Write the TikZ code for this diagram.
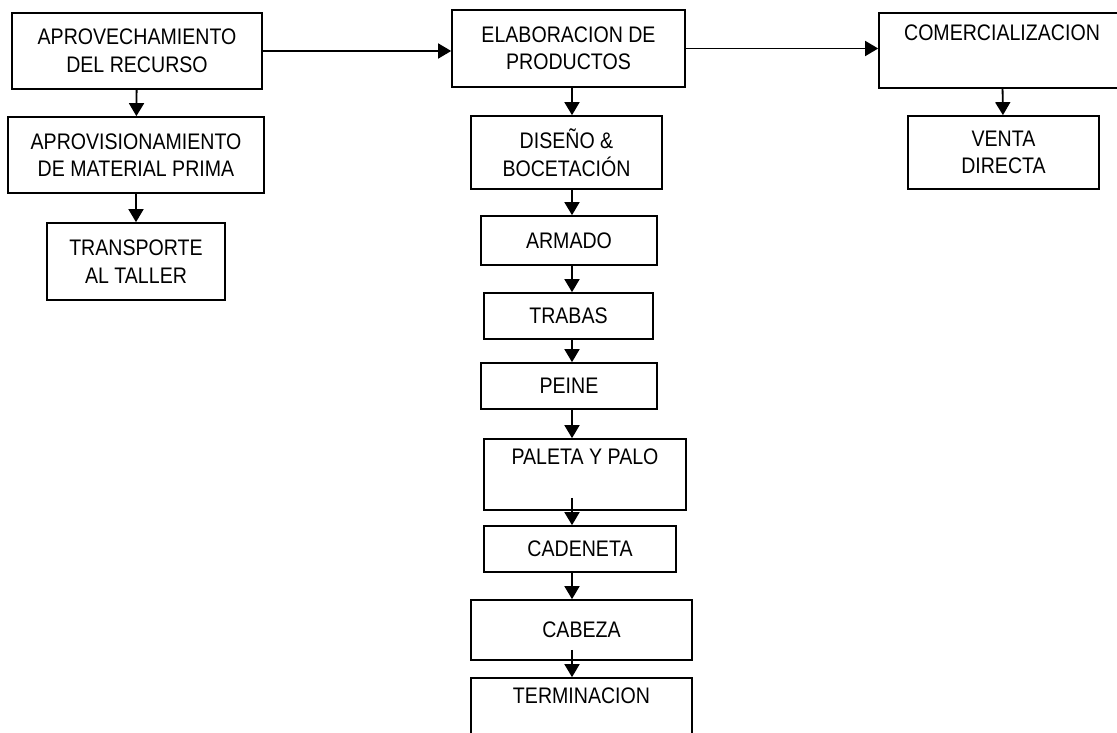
\documentclass[tikz,border=0pt]{standalone}
\usepackage{fontspec}
\setmainfont{Liberation Sans}[FakeStretch=0.87]
\usetikzlibrary{arrows.meta}

\tikzset{
  caja/.style={draw, line width=1.7pt, rectangle, inner sep=0pt, align=center,
    font=\fontsize{22.5}{27.5}\selectfont},
  flecha/.style={line width=1.8pt, -{Triangle[width=15pt, length=13pt]}}
}

\begin{document}
\begin{tikzpicture}[x=1pt, y=-1pt]
  \useasboundingbox (0,0) rectangle (1117,733);
  \clip (0,0) rectangle (1117,733);
  % columna izquierda
  \node[caja, minimum width=250, minimum height=76] (a1) at (137,51) {APROVECHAMIENTO\\DEL RECURSO};
  \node[caja, minimum width=256, minimum height=76] (a2) at (136,155) {APROVISIONAMIENTO\\DE MATERIAL PRIMA};
  \node[caja, minimum width=178, minimum height=77] (a3) at (136,261.5) {TRANSPORTE\\AL TALLER};
  % columna central
  \coordinate (col) at (572,0);
  \node[caja, minimum width=233, minimum height=77] (e1) at (568.5,48.5) {ELABORACION DE\\PRODUCTOS};
  \node[caja, minimum width=191, minimum height=73] (e2) at (566.5,152.5) {DISEÑO \&\\BOCETACIÓN};
  \node[caja, minimum width=176, minimum height=49] (e3) at (569,240.5) {ARMADO};
  \node[caja, minimum width=169, minimum height=46] (e4) at (568.5,316) {TRABAS};
  \node[caja, minimum width=176, minimum height=46] (e5) at (569,386) {PEINE};
  \node[caja, minimum width=202, minimum height=71] (e6) at (585,474.5) {PALETA Y PALO\\\strut};
  \node[caja, minimum width=192, minimum height=46] (e7) at (580,549) {CADENETA};
  \node[caja, minimum width=221, minimum height=60] (e8) at (581.5,630) {CABEZA};
  \node[caja, minimum width=221, minimum height=72] (e9) at (581.5,714) {TERMINACION\\\strut};
  % columna derecha
  \node[caja, minimum width=246, minimum height=75] (c1) at (1002,50.5) {COMERCIALIZACION\\\strut};
  \node[caja, minimum width=191, minimum height=73] (c2) at (1003.5,152.5) {VENTA\\DIRECTA};

  \draw[flecha] (a1.east) -- (a1.east -| e1.west);
  \draw[flecha] (e1.east) -- (e1.east -| c1.west);
  \draw[flecha] (a1) -- (a2);
  \draw[flecha] (a2) -- (a3);
  \draw[flecha] (c1) -- (c2);
  \draw[flecha] (e1.south -| col) -- (e2.north -| col);
  \draw[flecha] (e2.south -| col) -- (e3.north -| col);
  \draw[flecha] (e3.south -| col) -- (e4.north -| col);
  \draw[flecha] (e4.south -| col) -- (e5.north -| col);
  \draw[flecha] (e5.south -| col) -- (e6.north -| col);
  \draw[flecha] ([yshift=13pt]e6.south -| col) -- (e7.north -| col);
  \draw[flecha] (e7.south -| col) -- (e8.north -| col);
  \draw[flecha] ([yshift=11pt]e8.south -| col) -- (e9.north -| col);
\end{tikzpicture}
\end{document}
